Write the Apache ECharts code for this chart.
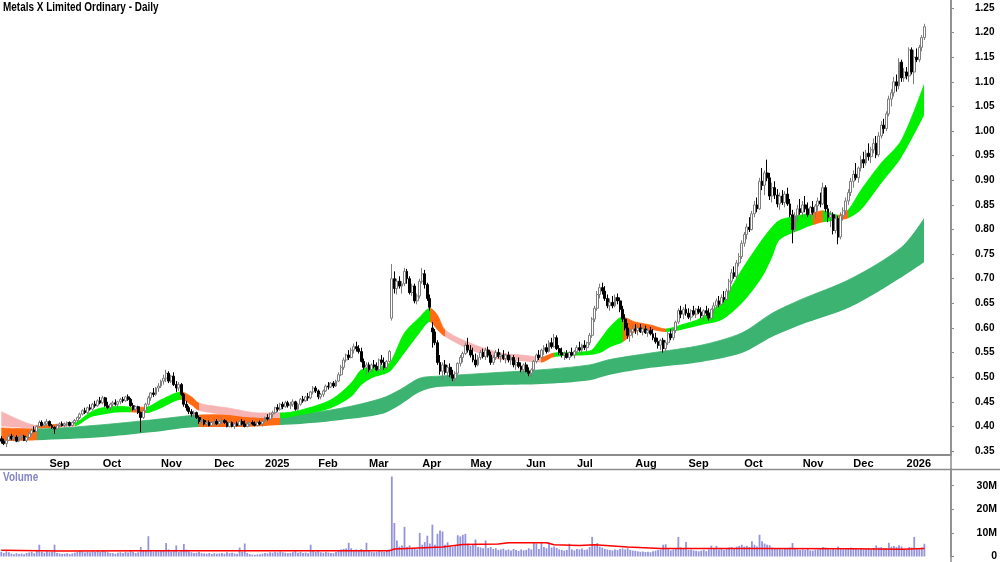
<!DOCTYPE html>
<html>
<head>
<meta charset="utf-8">
<title>Metals X Limited Ordinary - Daily</title>
<script src="https://cdn.jsdelivr.net/npm/echarts@6/dist/echarts.min.js"></script>
<style>
  html, body { margin: 0; padding: 0; background: #fff; }
  #chart { width: 1000px; height: 562px; }
</style>
</head>
<body>
<div id="chart"></div>
<script>
// one row per trading day: [open, high, low, close, volume in millions]
const aug2024 = [
  [0.375,0.380,0.365,0.370,2.0],[0.370,0.375,0.362,0.365,1.5],[0.365,0.375,0.358,0.372,2.2],[0.372,0.385,0.370,0.380,1.8],
  [0.380,0.385,0.372,0.375,1.2],[0.375,0.383,0.370,0.378,1.0],[0.378,0.382,0.368,0.370,1.4],[0.370,0.380,0.368,0.378,1.1],
  [0.378,0.385,0.372,0.380,1.3],[0.380,0.383,0.370,0.372,1.0],[0.372,0.380,0.368,0.378,1.5],[0.378,0.388,0.375,0.385,1.7],
  [0.385,0.395,0.382,0.392,2.0],[0.392,0.400,0.388,0.390,1.4],[0.390,0.402,0.388,0.400,2.3],[0.400,0.412,0.398,0.408,5.0],
  [0.408,0.412,0.400,0.402,2.0],[0.402,0.410,0.398,0.405,1.6],[0.405,0.415,0.402,0.410,2.2]
]
const sep2024 = [
  [0.410,0.412,0.400,0.402,1.8],[0.402,0.405,0.395,0.398,2.0],[0.398,0.400,0.385,0.395,5.0],[0.395,0.405,0.393,0.402,1.5],
  [0.402,0.408,0.398,0.405,1.3],[0.405,0.410,0.400,0.402,1.1],[0.402,0.408,0.398,0.405,1.2],[0.405,0.410,0.400,0.408,1.4],
  [0.408,0.410,0.400,0.402,1.0],[0.402,0.410,0.400,0.408,1.3],[0.408,0.415,0.405,0.412,1.6],[0.412,0.420,0.408,0.418,2.0],
  [0.418,0.428,0.415,0.425,2.4],[0.425,0.435,0.422,0.432,2.1],[0.432,0.438,0.425,0.428,1.7],[0.428,0.440,0.425,0.438,2.0],
  [0.438,0.445,0.432,0.435,1.8],[0.435,0.448,0.432,0.445,2.2],[0.445,0.452,0.438,0.442,1.9],[0.442,0.455,0.440,0.452,2.3],
  [0.452,0.460,0.445,0.448,2.0]
]
const oct2024 = [
  [0.448,0.462,0.445,0.458,2.5],[0.458,0.460,0.440,0.442,2.2],[0.442,0.450,0.435,0.438,1.8],[0.438,0.448,0.432,0.445,1.5],
  [0.445,0.452,0.440,0.448,1.4],[0.448,0.455,0.442,0.445,1.2],[0.445,0.452,0.438,0.450,1.6],[0.450,0.458,0.445,0.455,1.8],
  [0.455,0.460,0.448,0.452,1.5],[0.452,0.462,0.450,0.460,2.0],[0.460,0.465,0.452,0.455,1.7],[0.455,0.458,0.440,0.442,2.4],
  [0.442,0.448,0.432,0.435,2.0],[0.435,0.442,0.430,0.440,1.5],[0.440,0.442,0.425,0.428,1.8],[0.428,0.430,0.388,0.418,4.0],
  [0.418,0.435,0.415,0.432,2.6],[0.432,0.448,0.430,0.445,2.4],[0.445,0.462,0.442,0.458,8.6],[0.458,0.470,0.452,0.468,2.8],
  [0.468,0.478,0.460,0.465,2.1],[0.465,0.480,0.462,0.478,2.6],[0.478,0.488,0.470,0.482,2.3]
]
const nov2024 = [
  [0.482,0.495,0.478,0.492,2.4],[0.492,0.505,0.485,0.498,2.6],[0.498,0.515,0.490,0.508,5.7],[0.508,0.512,0.488,0.492,3.0],
  [0.492,0.505,0.488,0.502,2.2],[0.502,0.510,0.482,0.485,2.6],[0.485,0.492,0.470,0.478,4.7],[0.478,0.490,0.472,0.485,2.0],
  [0.485,0.488,0.462,0.465,2.8],[0.465,0.468,0.440,0.445,5.3],[0.445,0.452,0.432,0.438,2.9],[0.438,0.442,0.425,0.430,2.2],
  [0.430,0.435,0.420,0.425,1.8],[0.425,0.432,0.418,0.428,1.5],[0.428,0.430,0.415,0.418,1.6],[0.418,0.422,0.405,0.410,2.0],
  [0.410,0.418,0.405,0.412,1.4],[0.412,0.415,0.402,0.405,1.3],[0.405,0.412,0.400,0.408,1.2],[0.408,0.412,0.400,0.402,1.5],
  [0.402,0.410,0.400,0.408,1.1]
]
const dec2024 = [
  [0.408,0.415,0.402,0.410,1.4],[0.410,0.415,0.403,0.405,1.2],[0.405,0.412,0.400,0.410,1.3],[0.410,0.418,0.405,0.412,1.5],
  [0.412,0.415,0.405,0.408,1.2],[0.408,0.412,0.398,0.400,1.8],[0.400,0.410,0.398,0.408,1.4],[0.408,0.410,0.398,0.400,1.6],
  [0.400,0.408,0.395,0.405,1.3],[0.405,0.410,0.400,0.402,1.1],[0.402,0.412,0.400,0.410,3.8],[0.410,0.415,0.402,0.405,2.0],
  [0.405,0.412,0.398,0.400,5.5],[0.400,0.408,0.398,0.405,1.5],[0.405,0.410,0.400,0.408,1.0],[0.408,0.412,0.402,0.405,0.8],
  [0.405,0.410,0.400,0.402,0.7],[0.402,0.410,0.400,0.408,0.9],[0.408,0.412,0.402,0.405,1.0],[0.405,0.412,0.400,0.410,1.2]
]
const jan2025 = [
  [0.410,0.420,0.408,0.418,1.5],[0.418,0.425,0.412,0.415,1.3],[0.415,0.428,0.412,0.425,1.8],[0.425,0.432,0.418,0.428,1.6],
  [0.428,0.440,0.425,0.438,2.0],[0.438,0.445,0.430,0.435,1.7],[0.435,0.448,0.432,0.445,2.2],[0.445,0.450,0.435,0.440,1.8],
  [0.440,0.452,0.438,0.448,1.6],[0.448,0.452,0.438,0.442,1.4],[0.442,0.450,0.435,0.445,1.5],[0.445,0.455,0.440,0.450,1.8],
  [0.450,0.452,0.432,0.435,2.5],[0.435,0.448,0.432,0.445,1.6],[0.445,0.458,0.442,0.455,2.0],[0.455,0.462,0.448,0.452,1.5],
  [0.452,0.462,0.450,0.460,1.7],[0.460,0.468,0.452,0.458,1.4],[0.458,0.472,0.455,0.470,5.0],[0.470,0.482,0.465,0.478,2.6],
  [0.478,0.482,0.468,0.472,2.0]
]
const feb2025 = [
  [0.472,0.475,0.455,0.460,2.4],[0.460,0.468,0.455,0.465,1.8],[0.465,0.475,0.460,0.472,1.6],[0.472,0.485,0.470,0.482,2.0],
  [0.482,0.490,0.475,0.480,1.7],[0.480,0.490,0.478,0.488,1.5],[0.488,0.492,0.478,0.482,1.4],[0.482,0.495,0.480,0.492,1.9],
  [0.492,0.510,0.490,0.505,2.6],[0.505,0.525,0.502,0.520,3.0],[0.520,0.540,0.515,0.535,3.2],[0.535,0.548,0.530,0.545,3.4],
  [0.545,0.555,0.535,0.540,5.8],[0.540,0.560,0.538,0.555,3.5],[0.555,0.568,0.548,0.562,2.8],[0.562,0.572,0.552,0.558,3.0],
  [0.558,0.565,0.548,0.552,2.4],[0.552,0.560,0.530,0.532,3.2],[0.532,0.538,0.515,0.520,2.6],[0.520,0.530,0.505,0.525,5.8]
]
const mar2025 = [
  [0.525,0.530,0.510,0.515,2.5],[0.515,0.528,0.510,0.525,2.0],[0.525,0.535,0.518,0.522,1.8],[0.522,0.530,0.512,0.515,2.0],
  [0.515,0.538,0.512,0.535,2.4],[0.535,0.545,0.525,0.530,2.2],[0.530,0.540,0.515,0.520,2.0],[0.520,0.535,0.515,0.532,2.6],
  [0.532,0.555,0.530,0.552,3.0],[0.620,0.730,0.615,0.700,33.9],[0.700,0.715,0.670,0.680,14.2],[0.680,0.700,0.668,0.695,6.8],
  [0.695,0.705,0.680,0.685,4.2],[0.685,0.695,0.670,0.690,4.7],[0.690,0.722,0.685,0.715,12.6],[0.715,0.720,0.690,0.700,4.0],
  [0.700,0.705,0.668,0.672,4.7],[0.672,0.690,0.665,0.685,3.2],[0.685,0.690,0.650,0.655,3.6],[0.655,0.670,0.648,0.665,3.0],
  [0.665,0.700,0.660,0.695,10.0]
]
const apr2025 = [
  [0.695,0.722,0.690,0.710,5.0],[0.710,0.718,0.680,0.688,6.1],[0.688,0.692,0.655,0.660,8.8],[0.660,0.668,0.635,0.642,5.5],
  [0.600,0.612,0.560,0.592,13.5],[0.592,0.598,0.565,0.570,5.0],[0.570,0.575,0.525,0.530,9.6],[0.530,0.545,0.505,0.512,11.0],
  [0.512,0.530,0.495,0.525,10.6],[0.525,0.535,0.505,0.510,5.0],[0.510,0.525,0.500,0.520,6.0],[0.520,0.528,0.500,0.505,4.2],
  [0.505,0.515,0.492,0.498,4.0],[0.498,0.512,0.490,0.508,4.5],[0.508,0.530,0.505,0.528,9.0],[0.528,0.545,0.522,0.540,8.5],
  [0.540,0.552,0.530,0.548,9.2],[0.548,0.570,0.545,0.565,9.6],[0.565,0.580,0.550,0.555,5.5]
]
const may2025 = [
  [0.555,0.565,0.540,0.545,4.5],[0.545,0.560,0.530,0.535,5.0],[0.535,0.548,0.520,0.525,7.2],[0.525,0.545,0.522,0.540,4.0],
  [0.540,0.555,0.535,0.550,3.8],[0.550,0.558,0.538,0.542,3.5],[0.542,0.560,0.535,0.555,6.8],[0.555,0.562,0.540,0.545,3.6],
  [0.545,0.552,0.525,0.530,4.0],[0.530,0.545,0.525,0.540,3.2],[0.540,0.555,0.535,0.550,3.5],[0.550,0.558,0.538,0.542,2.8],
  [0.542,0.550,0.530,0.545,3.0],[0.545,0.555,0.535,0.538,3.3],[0.538,0.548,0.528,0.545,2.6],[0.545,0.552,0.530,0.535,3.0],
  [0.535,0.545,0.525,0.540,2.5],[0.540,0.545,0.520,0.525,3.2],[0.525,0.535,0.515,0.530,2.8],[0.530,0.540,0.518,0.522,2.4],
  [0.522,0.530,0.510,0.515,3.0],[0.515,0.528,0.508,0.525,2.6]
]
const jun2025 = [
  [0.525,0.530,0.510,0.512,2.8],[0.512,0.520,0.502,0.508,3.5],[0.508,0.518,0.500,0.515,3.0],[0.515,0.535,0.512,0.532,6.0],
  [0.532,0.548,0.528,0.545,5.5],[0.545,0.555,0.535,0.540,3.2],[0.540,0.558,0.538,0.555,6.2],[0.555,0.565,0.545,0.560,4.0],
  [0.560,0.568,0.548,0.552,3.5],[0.552,0.575,0.550,0.570,6.0],[0.570,0.580,0.558,0.562,3.8],[0.562,0.588,0.560,0.580,4.2],
  [0.580,0.585,0.555,0.558,3.6],[0.558,0.565,0.545,0.550,3.0],[0.550,0.560,0.540,0.545,2.8],[0.545,0.552,0.535,0.548,2.5],
  [0.548,0.555,0.538,0.540,2.8],[0.540,0.552,0.535,0.550,5.4],[0.550,0.560,0.542,0.545,3.0],[0.545,0.555,0.538,0.552,2.6]
]
const jul2025 = [
  [0.552,0.565,0.545,0.560,3.2],[0.560,0.572,0.552,0.555,3.0],[0.555,0.568,0.548,0.565,3.4],[0.565,0.575,0.555,0.560,2.8],
  [0.560,0.572,0.552,0.570,3.0],[0.570,0.590,0.565,0.585,4.0],[0.585,0.622,0.580,0.618,8.3],[0.618,0.645,0.612,0.640,4.5],
  [0.640,0.675,0.635,0.668,5.7],[0.668,0.690,0.660,0.682,4.2],[0.682,0.692,0.668,0.675,3.8],[0.675,0.685,0.655,0.660,3.2],
  [0.660,0.668,0.640,0.645,3.0],[0.645,0.660,0.635,0.652,2.8],[0.652,0.665,0.640,0.645,2.6],[0.645,0.668,0.642,0.662,3.0],
  [0.662,0.670,0.648,0.655,2.7],[0.655,0.662,0.632,0.638,3.2],[0.638,0.645,0.612,0.618,3.4],[0.618,0.628,0.595,0.600,3.0],
  [0.600,0.610,0.578,0.585,3.5],[0.585,0.598,0.572,0.592,2.8],[0.592,0.605,0.580,0.598,2.5]
]
const aug2025 = [
  [0.598,0.608,0.588,0.595,2.4],[0.595,0.605,0.585,0.600,2.2],[0.600,0.608,0.590,0.592,2.0],[0.592,0.602,0.585,0.598,2.1],
  [0.598,0.605,0.588,0.590,1.9],[0.590,0.600,0.582,0.595,2.0],[0.595,0.602,0.585,0.588,1.8],[0.588,0.598,0.575,0.580,2.2],
  [0.580,0.590,0.568,0.572,2.5],[0.572,0.580,0.558,0.565,2.8],[0.565,0.578,0.555,0.575,3.0],[0.575,0.580,0.550,0.558,5.0],
  [0.558,0.575,0.552,0.570,5.2],[0.570,0.592,0.565,0.588,3.5],[0.588,0.598,0.575,0.580,2.6],[0.580,0.600,0.575,0.595,3.0],
  [0.595,0.615,0.590,0.612,3.3],[0.612,0.640,0.608,0.635,8.3],[0.635,0.645,0.620,0.628,3.8],[0.628,0.642,0.618,0.638,3.5],
  [0.638,0.648,0.625,0.630,6.1]
]
const sep2025 = [
  [0.630,0.640,0.618,0.622,2.8],[0.622,0.638,0.615,0.635,3.0],[0.635,0.645,0.625,0.628,2.6],[0.628,0.640,0.620,0.638,2.4],
  [0.638,0.645,0.628,0.632,2.2],[0.632,0.642,0.620,0.625,2.5],[0.625,0.638,0.615,0.635,2.8],[0.635,0.645,0.625,0.630,2.3],
  [0.630,0.640,0.615,0.620,3.0],[0.620,0.640,0.618,0.638,4.6],[0.638,0.652,0.630,0.645,3.2],[0.645,0.660,0.640,0.655,4.5],
  [0.655,0.665,0.642,0.648,3.0],[0.648,0.668,0.645,0.662,3.4],[0.662,0.675,0.652,0.658,2.9],[0.658,0.680,0.655,0.675,3.5],
  [0.675,0.700,0.670,0.695,3.8],[0.695,0.720,0.690,0.712,4.0],[0.712,0.725,0.700,0.705,3.2],[0.705,0.738,0.700,0.732,4.2],
  [0.732,0.752,0.725,0.745,4.5],[0.745,0.778,0.740,0.772,5.0]
]
const oct2025 = [
  [0.772,0.795,0.765,0.790,4.2],[0.790,0.812,0.780,0.805,4.5],[0.805,0.825,0.795,0.800,4.0],[0.800,0.838,0.798,0.832,6.5],
  [0.832,0.858,0.825,0.850,5.0],[0.850,0.865,0.835,0.842,4.2],[0.842,0.905,0.840,0.898,9.2],[0.898,0.925,0.880,0.890,6.5],
  [0.890,0.920,0.870,0.915,5.5],[0.915,0.942,0.898,0.905,5.0],[0.905,0.915,0.860,0.868,4.8],[0.868,0.895,0.855,0.885,3.8],
  [0.885,0.898,0.862,0.870,3.5],[0.870,0.882,0.845,0.852,3.6],[0.852,0.875,0.840,0.868,3.2],[0.868,0.880,0.850,0.855,3.0],
  [0.855,0.878,0.845,0.872,3.4],[0.872,0.885,0.848,0.852,3.3],[0.852,0.862,0.825,0.830,3.8],[0.830,0.840,0.772,0.800,5.7],
  [0.800,0.835,0.795,0.828,3.6],[0.828,0.850,0.815,0.842,3.0],[0.842,0.862,0.830,0.835,2.8]
]
const nov2025 = [
  [0.835,0.858,0.825,0.850,3.0],[0.850,0.868,0.835,0.842,2.8],[0.842,0.855,0.825,0.830,3.2],[0.830,0.848,0.820,0.845,2.6],
  [0.845,0.858,0.830,0.835,2.5],[0.835,0.852,0.822,0.848,2.8],[0.848,0.865,0.838,0.858,3.0],[0.858,0.875,0.845,0.852,3.2],
  [0.852,0.895,0.850,0.885,4.0],[0.885,0.890,0.835,0.842,3.8],[0.842,0.850,0.815,0.825,3.5],[0.825,0.838,0.805,0.830,3.0],
  [0.830,0.835,0.790,0.798,3.4],[0.798,0.830,0.792,0.822,3.0],[0.822,0.828,0.770,0.785,4.2],[0.785,0.835,0.780,0.828,3.6],
  [0.828,0.845,0.818,0.838,3.0],[0.838,0.865,0.830,0.858,3.2],[0.858,0.882,0.850,0.875,3.4],[0.875,0.905,0.868,0.898,3.8]
]
const dec2025 = [
  [0.898,0.920,0.885,0.912,3.5],[0.912,0.935,0.900,0.905,3.2],[0.905,0.928,0.895,0.925,3.0],[0.925,0.950,0.918,0.942,3.4],
  [0.942,0.958,0.925,0.935,3.0],[0.935,0.962,0.930,0.955,3.2],[0.955,0.975,0.940,0.948,3.5],[0.948,0.968,0.935,0.962,3.0],
  [0.962,0.985,0.955,0.975,3.6],[0.975,0.990,0.945,0.952,4.7],[0.952,0.998,0.948,0.990,3.8],[0.990,1.020,0.985,1.012,4.0],
  [1.012,1.025,0.995,1.005,3.5],[1.005,1.040,1.000,1.035,3.6],[1.035,1.072,1.030,1.065,5.8],[1.065,1.085,1.050,1.078,4.2],
  [1.078,1.110,1.070,1.100,4.5],[1.100,1.115,1.080,1.092,4.0],[1.092,1.148,1.085,1.140,4.8],[1.140,1.145,1.100,1.108,4.2],
  [1.108,1.128,1.100,1.120,3.2]
]
const jan2026 = [
  [1.120,1.130,1.105,1.112,3.0],[1.112,1.170,1.100,1.165,4.0],[1.165,1.170,1.115,1.120,3.8],[1.120,1.165,1.095,1.150,8.3],
  [1.150,1.168,1.140,1.145,3.5],[1.145,1.175,1.140,1.170,3.2],[1.170,1.195,1.162,1.190,3.8],[1.190,1.218,1.185,1.212,5.4]
]

// moving average ribbons: [day index, lower edge, upper edge, colour state]
const shortBand = [
  [0,0.400,0.430,'p'],[9,0.397,0.409,'p'],[14,0.396,0.402,'o'],[24,0.399,0.405,'p'],[29,0.400,0.407,'g'],
  [35,0.418,0.428,'g'],[39,0.423,0.437,'g'],[47,0.429,0.441,'g'],[51,0.429,0.439,'o'],[57,0.427,0.439,'g'],
  [63,0.437,0.454,'g'],[71,0.454,0.470,'o'],[75,0.443,0.460,'o'],[78,0.432,0.447,'p'],[90,0.423,0.437,'p'],
  [102,0.417,0.427,'p'],[110,0.417,0.427,'g'],[118,0.423,0.433,'g'],[130,0.437,0.454,'g'],[138,0.460,0.488,'g'],
  [142,0.484,0.515,'g'],[146,0.498,0.520,'g'],[152,0.508,0.525,'g'],[154,0.515,0.535,'g'],[159,0.549,0.590,'g'],
  [165,0.590,0.622,'g'],[169,0.612,0.640,'o'],[172,0.596,0.626,'o'],[175,0.582,0.596,'p'],[185,0.555,0.569,'p'],
  [197,0.535,0.549,'p'],[205,0.533,0.545,'p'],[213,0.530,0.541,'o'],[218,0.541,0.549,'g'],[232,0.545,0.553,'g'],
  [236,0.549,0.575,'g'],[240,0.561,0.602,'g'],[245,0.571,0.622,'o'],[250,0.592,0.612,'o'],[256,0.596,0.606,'o'],
  [262,0.592,0.598,'g'],[268,0.596,0.606,'g'],[276,0.606,0.620,'g'],[284,0.616,0.653,'g'],[292,0.650,0.718,'g'],
  [300,0.703,0.779,'g'],[304,0.744,0.805,'g'],[307,0.779,0.819,'g'],[315,0.799,0.829,'g'],[320,0.809,0.834,'o'],
  [324,0.815,0.838,'g'],[330,0.819,0.829,'o'],[334,0.823,0.840,'g'],[339,0.840,0.880,'g'],[347,0.894,0.935,'g'],
  [355,0.947,0.982,'g'],[364,1.033,1.096,'g']
]
const longBand = [
  [0,0.370,0.397,'o'],[14,0.372,0.395,'d'],[39,0.378,0.403,'d'],[59,0.388,0.413,'d'],[78,0.399,0.423,'o'],
  [94,0.399,0.424,'o'],[110,0.403,0.427,'d'],[118,0.405,0.427,'d'],[134,0.413,0.437,'d'],[150,0.425,0.457,'d'],
  [157,0.443,0.474,'d'],[165,0.470,0.498,'d'],[172,0.480,0.502,'d'],[185,0.482,0.506,'d'],[197,0.484,0.510,'d'],
  [213,0.486,0.515,'d'],[232,0.494,0.525,'d'],[240,0.505,0.536,'d'],[256,0.519,0.549,'d'],[276,0.531,0.565,'d'],
  [292,0.549,0.590,'d'],[304,0.582,0.630,'d'],[315,0.606,0.657,'d'],[335,0.643,0.700,'d'],[355,0.703,0.764,'d'],
  [364,0.734,0.823,'d']
]
const volumeAverage = [
  [0,2.6],[23,2.3],[59,2.4],[98,2.4],[130,2.4],[153,2.4],[155,3.2],[174,4.0],[182,5.1],[196,5.3],[200,5.8],
  [215,5.8],[218,5.0],[228,4.7],[234,5.0],[247,4.0],[260,3.4],[300,3.4],[335,3.3],[355,3.1],[364,3.4]
]

const priceTicks = [0.35,0.40,0.45,0.50,0.55,0.60,0.65,0.70,0.75,0.80,0.85,0.90,0.95,1.00,1.05,1.10,1.15,1.20,1.25]
const volumeTicks = [0,10,20,30]
const monthNames = ['Jan','Feb','Mar','Apr','May','Jun','Jul','Aug','Sep','Oct','Nov','Dec']
const holidays = ['2024-12-25','2024-12-26','2025-01-01','2025-01-27','2025-04-18','2025-04-21','2025-04-25',
  '2025-06-09','2025-12-25','2025-12-26','2026-01-01']
const blankDays = 10

const bandColors = { g: '#00f000', o: '#ff6a13', p: '#f7b4b4', d: '#3cb371' }
const font = '"Liberation Sans", Arial, sans-serif'

const days = [].concat(aug2024, sep2024, oct2024, nov2024, dec2024, jan2025, feb2025, mar2025, apr2025,
  may2025, jun2025, jul2025, aug2025, sep2025, oct2025, nov2025, dec2025, jan2026)

// trading calendar, weekends and exchange holidays left out
const dates = []
const cursor = new Date(Date.UTC(2024, 7, 6))
while (dates.length < days.length + blankDays) {
  const s = cursor.toISOString().slice(0, 10)
  const wd = cursor.getUTCDay()
  if (wd !== 0 && wd !== 6 && !holidays.includes(s)) dates.push(s)
  cursor.setUTCDate(cursor.getUTCDate() + 1)
}

const isMonthStart = (i) => i > 0 && dates[i].slice(5, 7) !== dates[i - 1].slice(5, 7)
const monthLabel = (value) => {
  const m = +value.slice(5, 7)
  return m === 1 ? value.slice(0, 4) : monthNames[m - 1]
}

// colour runs of a ribbon -> pieces along the day index
function bandPieces(knots) {
  return knots.slice(0, -1).map((k, n) => {
    const last = n === knots.length - 2
    return last
      ? { gte: k[0], lte: knots[n + 1][0], color: bandColors[k[3]] }
      : { gte: k[0], lt: knots[n + 1][0], color: bandColors[k[3]] }
  })
}

// a ribbon is an invisible lower edge with the band width stacked on top
function bandSeries(name, knots, z) {
  const common = {
    type: 'line',
    xAxisIndex: 0,
    yAxisIndex: 0,
    stack: name,
    z,
    silent: true,
    symbol: 'none',
    smooth: 0.3
  }
  return [
    {
      ...common,
      name: name + ' base',
      lineStyle: { width: 0, opacity: 0 },
      data: knots.map((k) => [k[0], k[1]])
    },
    {
      ...common,
      name,
      lineStyle: { width: 0.8 },
      areaStyle: { opacity: 1 },
      data: knots.map((k) => [k[0], +(k[2] - k[1]).toFixed(3)])
    }
  ]
}

const chart = echarts.init(document.getElementById('chart'), null, { renderer: 'canvas' })
chart.setOption({
  animation: false,
  backgroundColor: '#ffffff',
  grid: [
    { left: 0, right: 49, top: 0, height: 455 },
    { left: 0, right: 49, top: 469, bottom: 4 }
  ],
  visualMap: [
    { type: 'piecewise', show: false, seriesIndex: 1, dimension: 0, pieces: bandPieces(longBand) },
    { type: 'piecewise', show: false, seriesIndex: 3, dimension: 0, pieces: bandPieces(shortBand) }
  ],
  xAxis: [
    {
      type: 'category',
      gridIndex: 0,
      data: dates,
      axisLine: { lineStyle: { color: '#8c8c8c', width: 2 } },
      axisTick: { interval: (i) => isMonthStart(i), alignWithLabel: true, length: 3, lineStyle: { color: '#8c8c8c' } },
      axisLabel: {
        interval: (i) => isMonthStart(i),
        formatter: (v) => monthLabel(v),
        align: 'left',
        margin: 3,
        fontFamily: font,
        fontSize: 11,
        fontWeight: 'bold',
        color: '#000'
      },
      splitLine: { show: false }
    },
    {
      type: 'category',
      gridIndex: 1,
      data: dates,
      axisLine: { show: false },
      axisTick: { show: false },
      axisLabel: { show: false },
      splitLine: { show: false }
    }
  ],
  yAxis: [
    {
      type: 'value',
      gridIndex: 0,
      position: 'right',
      min: 0.3419,
      max: 1.2663,
      axisLine: { show: true, lineStyle: { color: '#8c8c8c', width: 1.5 } },
      axisTick: { show: true, length: 3, customValues: priceTicks, lineStyle: { color: '#8c8c8c' } },
      axisLabel: {
        customValues: priceTicks,
        formatter: (v) => v.toFixed(2),
        margin: 24,
        fontFamily: font,
        fontSize: 10,
        fontWeight: 'bold',
        color: '#000'
      },
      splitLine: { show: false }
    },
    {
      type: 'value',
      gridIndex: 1,
      position: 'right',
      min: 0,
      max: 37.08,
      axisLine: { show: true, lineStyle: { color: '#8c8c8c', width: 1.5 } },
      axisTick: { show: true, length: 3, customValues: volumeTicks, lineStyle: { color: '#8c8c8c' } },
      axisLabel: {
        customValues: volumeTicks,
        formatter: (v) => (v === 0 ? '0' : v + 'M'),
        align: 'right',
        margin: 46,
        fontFamily: font,
        fontSize: 10.5,
        fontWeight: 'bold',
        color: '#000'
      },
      splitLine: { show: false }
    }
  ],
  graphic: [
    { type: 'line', silent: true, shape: { x1: 0, y1: 469.5, x2: 1000, y2: 469.5 }, style: { stroke: '#8c8c8c', lineWidth: 1.5 } },
    { type: 'line', silent: true, shape: { x1: 951, y1: 0, x2: 951, y2: 562 }, style: { stroke: '#8c8c8c', lineWidth: 1.5 } },
    {
      type: 'text', silent: true, x: 3, y: 2, scaleX: 0.83,
      style: { text: 'Metals X Limited Ordinary - Daily', font: 'bold 12px "Liberation Sans", Arial', fill: '#000' }
    },
    {
      type: 'text', silent: true, x: 3, y: 472, scaleX: 0.83,
      style: { text: 'Volume', font: 'bold 12px "Liberation Sans", Arial', fill: '#8484c8' }
    }
  ],
  series: [
    ...bandSeries('Long-term MAs', longBand, 1),
    ...bandSeries('Short-term MAs', shortBand, 2),
    {
      name: 'Price',
      type: 'candlestick',
      xAxisIndex: 0,
      yAxisIndex: 0,
      z: 5,
      barWidth: 2.4,
      itemStyle: { color: '#ffffff', borderColor: '#7e7e7e', color0: '#000000', borderColor0: '#000000', borderWidth: 1 },
      data: days.map((d) => [d[0], d[3], d[2], d[1]])
    },
    {
      name: 'Volume',
      type: 'bar',
      xAxisIndex: 1,
      yAxisIndex: 1,
      barWidth: 1.8,
      itemStyle: { color: '#9494dc' },
      data: days.map((d) => d[4])
    },
    {
      name: 'Volume average',
      type: 'line',
      xAxisIndex: 1,
      yAxisIndex: 1,
      z: 5,
      symbol: 'none',
      lineStyle: { color: '#ff0000', width: 1.5 },
      data: volumeAverage
    }
  ]
})
</script>
</body>
</html>
